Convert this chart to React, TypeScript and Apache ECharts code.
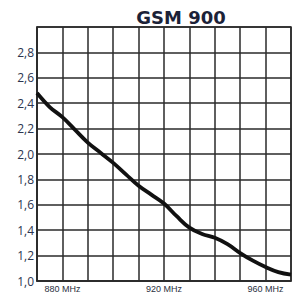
import React, { useEffect, useRef } from "react";
import * as echarts from "echarts";

const frequencies = [870, 875, 880, 885, 890, 895, 900, 905, 910, 915, 920, 925, 930, 935, 940, 945, 950, 955, 960, 965, 970];
const vswr = [2.48, 2.37, 2.29, 2.19, 2.09, 2.01, 1.93, 1.84, 1.75, 1.68, 1.61, 1.51, 1.42, 1.37, 1.34, 1.29, 1.22, 1.16, 1.11, 1.07, 1.05];
const xTickLabels = [880, 920, 960];
const title = "GSM 900";

export default function App() {
  const ref = useRef<HTMLDivElement>(null);
  useEffect(() => {
    if (!ref.current) return;
    const chart = echarts.init(ref.current, null, { renderer: "svg" });
    const gridColor = "#2a2a2a";
    chart.setOption({
      animation: false,
      title: {
        text: title,
        left: 176,
        top: 3,
        textAlign: "center",
        textStyle: { fontFamily: "DejaVu Sans", fontWeight: "bold", fontSize: 18, color: "#1c2238" },
      },
      grid: {
        left: 37,
        right: 3,
        top: 27,
        bottom: 11,
        show: true,
        borderColor: gridColor,
        borderWidth: 1.5,
      },
      xAxis: {
        type: "value",
        min: 870,
        max: 970,
        interval: 10,
        axisLine: { show: true, lineStyle: { color: gridColor, width: 1.5 } },
        axisTick: { show: false },
        splitLine: { show: true, lineStyle: { color: gridColor, width: 1.5 } },
        axisLabel: {
          margin: 3,
          fontSize: 9,
          fontFamily: "Liberation Sans Narrow, Liberation Sans",
          color: "#2a3040",
          formatter: (v: number) => (xTickLabels.includes(v) ? `${v} MHz` : ""),
        },
      },
      yAxis: {
        type: "value",
        min: 1.0,
        max: 3.0,
        interval: 0.2,
        axisLine: { show: true, lineStyle: { color: gridColor, width: 1.5 } },
        axisTick: { show: false },
        splitLine: { show: true, lineStyle: { color: gridColor, width: 1.5 } },
        axisLabel: {
          margin: 3,
          fontSize: 12,
          fontFamily: "Open Sans",
          color: "#2c3550",
          formatter: (v: number) => (Math.abs(v - 3) < 1e-6 ? "" : v.toFixed(1).replace(".", ",")),
        },
      },
      series: [
        {
          type: "line",
          data: frequencies.map((f, i) => [f, vswr[i]]),
          smooth: 0.4,
          showSymbol: false,
          lineStyle: { color: "#111111", width: 3.8 },
        },
      ],
    });
    return () => chart.dispose();
  }, []);
  return <div ref={ref} style={{ position: "fixed", left: 0, top: 0, width: 294, height: 293, background: "#fff" }} />;
}
